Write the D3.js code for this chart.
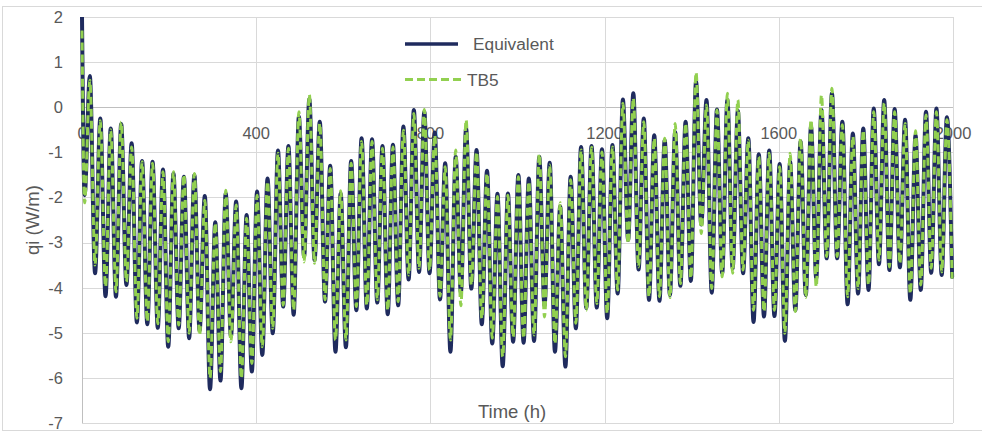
<!DOCTYPE html>
<html>
<head>
<meta charset="utf-8">
<script src="https://cdn.jsdelivr.net/npm/d3@7"></script>
<style>
  html, body { margin: 0; padding: 0; background: #fff; }
  svg { display: block; font-family: "Liberation Sans", Arial, sans-serif; }
</style>
</head>
<body>
<svg id="chart" width="982" height="431"></svg>
<script>
// Daily heat-flux cycle: one trough and one peak per 24 h, 0–2000 h.
const extremaHours = d3.range(6, 2000, 12);   // trough, peak, trough, ... every 12 h
const startHour = 0;

const equivalentStart = 2.0;
const equivalentTroughs = [
  -1.95, -3.68, -4.19, -4.2, -3.94, -4.77, -4.81, -4.89, -5.31, -4.9,
  -5.12, -4.95, -6.25, -6.06, -5.08, -6.23, -5.86, -5.49, -5.01, -4.42,
  -4.6, -3.31, -3.39, -4.31, -5.42, -5.32, -4.5, -4.46, -4.33, -4.59,
  -4.39, -3.82, -3.65, -3.68, -4.26, -5.42, -4.1, -4.02, -4.81, -5.24,
  -5.74, -5.2, -5.22, -5.18, -4.4, -5.42, -5.75, -4.9, -4.45, -4.44,
  -4.68, -4.13, -2.94, -3.6, -4.27, -4.29, -4.16, -3.96, -3.85, -2.6,
  -4.11, -3.68, -3.57, -3.68, -4.76, -4.64, -4.63, -5.18, -4.5, -4.16,
  -3.79, -3.35, -3.35, -4.37, -4.13, -4.05, -3.48, -3.61, -3.55, -4.27,
  -4.05, -3.67, -3.72, -3.76
];
const equivalentPeaks = [
  0.69, -0.25, -0.47, -0.37, -0.8, -1.19, -1.21, -1.38, -1.47, -1.54,
  -1.5, -1.97, -2.55, -1.91, -2.09, -2.39, -1.87, -1.58, -0.96, -0.86,
  -0.21, 0.18, -0.32, -1.3, -1.91, -1.19, -0.69, -0.71, -0.86, -0.83,
  -0.43, -0.06, -0.1, -0.56, -1.24, -1.1, -0.47, -0.95, -1.41, -1.92,
  -1.91, -1.5, -1.58, -1.1, -1.23, -2.2, -1.54, -0.88, -0.86, -0.93,
  -0.84, 0.17, 0.31, -0.25, -0.62, -0.73, -0.55, -0.32, 0.57, 0.16,
  -0.05, 0.16, -0.08, -0.69, -1.04, -0.96, -1.26, -1.21, -0.76, -0.43,
  -0.06, 0.31, -0.32, -0.58, -0.47, -0.03, 0.16, -0.04, -0.28, -0.62,
  -0.1, -0.03, -0.22
];

const tb5Start = 1.7;
const tb5Troughs = [
  -2.12, -3.5, -3.98, -4.09, -3.87, -4.68, -4.75, -4.8, -5.2, -4.83,
  -5.01, -5.05, -6.0, -5.86, -5.2, -6.01, -5.68, -5.31, -4.9, -4.39,
  -4.5, -3.43, -3.46, -4.27, -5.16, -5.16, -4.42, -4.39, -4.27, -4.5,
  -4.31, -3.72, -3.57, -3.61, -4.19, -5.16, -4.4, -3.94, -4.68, -5.12,
  -5.53, -5.09, -5.12, -5.05, -4.65, -5.24, -5.53, -4.79, -4.5, -4.35,
  -4.57, -4.05, -3.02, -3.54, -4.2, -4.2, -4.22, -3.91, -3.79, -2.8,
  -4.02, -3.76, -3.68, -3.61, -4.5, -4.53, -4.5, -5.01, -4.53, -4.22,
  -3.98, -3.31, -3.31, -4.2, -4.02, -3.94, -3.39, -3.54, -3.46, -4.13,
  -3.94, -3.57, -3.65, -3.8
];
const tb5Peaks = [
  0.6, -0.3, -0.5, -0.33, -0.88, -1.21, -1.24, -1.43, -1.43, -1.5,
  -1.47, -2.06, -2.57, -1.84, -2.17, -2.46, -1.95, -1.65, -1.02, -0.91,
  -0.1, 0.28, -0.36, -1.36, -1.85, -1.24, -0.76, -0.76, -0.91, -0.88,
  -0.51, -0.14, -0.05, -0.62, -1.32, -0.95, -0.28, -0.99, -1.47, -1.98,
  -1.95, -1.54, -1.65, -1.04, -1.28, -2.12, -1.61, -0.95, -0.89, -0.99,
  -0.88, 0.09, 0.2, -0.32, -0.69, -0.69, -0.36, -0.36, 0.77, 0.05,
  -0.06, 0.31, 0.16, -0.73, -1.1, -1.02, -1.32, -1.02, -0.69, -0.28,
  0.27, 0.42, -0.39, -0.65, -0.51, -0.1, 0.09, -0.1, -0.36, -0.52,
  -0.17, -0.1, -0.28
];

const xTicks = [0, 400, 800, 1200, 1600, 2000];
const yTicks = [2, 1, 0, -1, -2, -3, -4, -5, -6, -7];
const seriesNames = ["Equivalent", "TB5"];

// Interleave troughs and peaks into one time series
function buildSeries(start, troughs, peaks) {
  const pts = [{ t: startHour, v: start }];
  extremaHours.forEach((h, i) => {
    const k = Math.floor(i / 2);
    const v = i % 2 === 0 ? troughs[k] : peaks[k];
    if (v !== undefined) pts.push({ t: h, v });
  });
  return pts;
}
const equivalent = buildSeries(equivalentStart, equivalentTroughs, equivalentPeaks);
const tb5 = buildSeries(tb5Start, tb5Troughs, tb5Peaks);

const svg = d3.select("#chart");
const x = d3.scaleLinear().domain([0, 2000]).range([82, 953]);
const y = d3.scaleLinear().domain([-7, 2]).range([423, 17]);

const textColor = "#595959";
const gridColor = "#d9d9d9";

// outer frame
svg.append("rect")
  .attr("x", 2.5).attr("y", 6.5).attr("width", 990).attr("height", 424)
  .attr("fill", "none").attr("stroke", gridColor).attr("stroke-width", 1);

// horizontal gridlines
svg.append("g").selectAll("line").data(yTicks).join("line")
  .attr("x1", x(0)).attr("x2", x(2000))
  .attr("y1", d => Math.round(y(d)) + 0.5).attr("y2", d => Math.round(y(d)) + 0.5)
  .attr("stroke", d => d === 0 ? "#bfbfbf" : gridColor).attr("stroke-width", 1);

// vertical gridlines
svg.append("g").selectAll("line").data(xTicks.filter(d => d > 0)).join("line")
  .attr("x1", d => Math.round(x(d)) + 0.5).attr("x2", d => Math.round(x(d)) + 0.5)
  .attr("y1", y(2)).attr("y2", y(-7))
  .attr("stroke", gridColor).attr("stroke-width", 1);

// value axis line
svg.append("line")
  .attr("x1", Math.round(x(0)) + 0.5).attr("x2", Math.round(x(0)) + 0.5)
  .attr("y1", y(2)).attr("y2", y(-7))
  .attr("stroke", "#bfbfbf").attr("stroke-width", 1);

// y tick labels
svg.append("g").selectAll("text").data(yTicks).join("text")
  .attr("x", 63).attr("y", d => y(d)).attr("dy", "0.36em")
  .attr("text-anchor", "end").attr("fill", textColor)
  .style("font-size", "16.5px")
  .text(d => d);

// x tick labels, placed below the zero line
svg.append("g").selectAll("text").data(xTicks).join("text")
  .attr("x", d => x(d)).attr("y", y(0) + 32)
  .attr("text-anchor", "middle").attr("fill", textColor)
  .style("font-size", "16.5px")
  .text(d => d);

// axis titles
svg.append("text")
  .attr("transform", `translate(39,${(y(2) + y(-7)) / 2}) rotate(-90)`)
  .attr("text-anchor", "middle").attr("fill", textColor)
  .style("font-size", "18.5px")
  .text("qi (W/m)");

svg.append("text")
  .attr("x", 512).attr("y", 418)
  .attr("text-anchor", "middle").attr("fill", textColor)
  .style("font-size", "18.5px")
  .text("Time (h)");

// series
const line = d3.line().x(d => x(d.t)).y(d => y(d.v)).curve(d3.curveMonotoneX);

const plot = svg.append("g");
plot.append("clipPath").attr("id", "plotClip")
  .append("rect").attr("x", x(0) - 4).attr("y", y(2)).attr("width", x(2000) - x(0) + 8).attr("height", y(-7) - y(2));

plot.append("path").datum(equivalent)
  .attr("clip-path", "url(#plotClip)")
  .attr("d", line).attr("fill", "none")
  .attr("stroke", "#1f2b5e").attr("stroke-width", 4)
  .attr("stroke-linejoin", "round").attr("stroke-linecap", "round");

plot.append("path").datum(tb5)
  .attr("clip-path", "url(#plotClip)")
  .attr("d", line).attr("fill", "none")
  .attr("stroke", "#92d050").attr("stroke-width", 3)
  .attr("stroke-dasharray", "8,4");

// legend
const legend = svg.append("g");
legend.append("line")
  .attr("x1", 405).attr("x2", 458).attr("y1", 44).attr("y2", 44)
  .attr("stroke", "#1f2b5e").attr("stroke-width", 3.5);
legend.append("text")
  .attr("x", 473).attr("y", 50).attr("fill", textColor)
  .style("font-size", "17.3px").text(seriesNames[0]);
legend.append("line")
  .attr("x1", 405).attr("x2", 462).attr("y1", 79.5).attr("y2", 79.5)
  .attr("stroke", "#92d050").attr("stroke-width", 3)
  .attr("stroke-dasharray", "8,4");
legend.append("text")
  .attr("x", 467).attr("y", 86).attr("fill", textColor)
  .style("font-size", "17.3px").text(seriesNames[1]);
</script>
</body>
</html>
